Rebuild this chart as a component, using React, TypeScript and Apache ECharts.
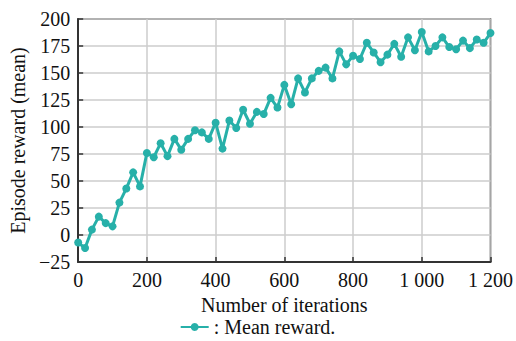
import React, { useEffect, useRef } from "react";
import * as echarts from "echarts";

const iterations: number[] = [
  0, 20, 40, 60, 80, 100, 120, 140, 160, 180, 200, 220, 240, 260, 280, 300, 320, 340, 360, 380,
  400, 420, 440, 460, 480, 500, 520, 540, 560, 580, 600, 620, 640, 660, 680, 700, 720, 740, 760, 780,
  800, 820, 840, 860, 880, 900, 920, 940, 960, 980, 1000, 1020, 1040, 1060, 1080, 1100, 1120, 1140, 1160, 1180, 1200,
];
const meanReward: number[] = [
  -7, -12, 5, 17, 11, 8, 30, 43, 58, 45, 76, 72, 85, 73, 89, 79, 89, 97, 95, 89,
  104, 80, 106, 99, 116, 103, 114, 112, 127, 118, 139, 121, 145, 132, 145, 152, 155, 145, 170, 158,
  166, 163, 178, 169, 160, 167, 177, 165, 183, 171, 188, 170, 175, 183, 174, 172, 180, 173, 181, 178, 187,
];
const seriesName = ": Mean reward.";
const xAxisTitle = "Number of iterations";
const yAxisTitle = "Episode reward (mean)";

const FONT = "Liberation Serif";
const TEAL = "#27b0a9";

export default function App() {
  const ref = useRef<HTMLDivElement>(null);
  useEffect(() => {
    if (!ref.current) return;
    const chart = echarts.init(ref.current, undefined, { renderer: "svg" });
    chart.setOption({
      animation: false,
      textStyle: { fontFamily: FONT },
      grid: {
        left: 76,
        right: 24,
        top: 19,
        bottom: 79,
        show: true,
        borderColor: "#333",
        borderWidth: 1.5,
        backgroundColor: "transparent",
      },
      legend: {
        show: true,
        top: 314,
        left: "center",
        padding: 2,
        itemWidth: 28,
        itemHeight: 10,
        itemGap: 4,
        textStyle: { fontFamily: FONT, fontSize: 20, color: "#111", lineHeight: 22 },
        data: [{ name: seriesName, icon: "path://M0,4 L28,4 L28,6 L0,6 Z M14,1 A4,4 0 1 1 13.99,1 Z" }],
      },
      xAxis: {
        type: "value",
        min: 0,
        max: 1200,
        interval: 200,
        name: xAxisTitle,
        nameLocation: "middle",
        nameGap: 31,
        nameTextStyle: { fontFamily: FONT, fontSize: 20, color: "#111" },
        axisLine: { show: true, onZero: false, lineStyle: { color: "#333", width: 2 } },
        axisTick: { show: true, inside: true, length: 5, lineStyle: { color: "#333", width: 1.5 } },
        axisLabel: {
          fontFamily: FONT,
          fontSize: 20,
          color: "#111",
          margin: 8,
          formatter: (v: number) => String(v).replace(/\B(?=(\d{3})+(?!\d))/g, " "),
        },
        splitLine: { show: true, lineStyle: { color: "#cccccc", width: 1.5 } },
      },
      yAxis: {
        type: "value",
        min: -25,
        max: 200,
        interval: 25,
        name: yAxisTitle,
        nameLocation: "middle",
        nameGap: 46,
        nameTextStyle: { fontFamily: FONT, fontSize: 20, color: "#111" },
        axisLine: { show: true, onZero: false, lineStyle: { color: "#333", width: 2 } },
        axisTick: { show: true, inside: true, length: 5, lineStyle: { color: "#333", width: 1.5 } },
        axisLabel: {
          fontFamily: FONT,
          fontSize: 20,
          color: "#111",
          margin: 8,
          formatter: (v: number) => (v < 0 ? "\u2212" + Math.abs(v) : String(v)),
        },
        splitLine: { show: true, lineStyle: { color: "#cccccc", width: 1.5 } },
      },
      series: [
        {
          name: seriesName,
          type: "line",
          data: iterations.map((x, i) => [x, meanReward[i]]),
          symbol: "circle",
          symbolSize: 8,
          showSymbol: true,
          lineStyle: { color: TEAL, width: 3 },
          itemStyle: { color: TEAL },
          clip: false,
        },
      ],
    });
    return () => chart.dispose();
  }, []);
  return (
    <div
      ref={ref}
      style={{ position: "fixed", left: 0, top: 0, width: 516, height: 341, background: "#fff" }}
    />
  );
}
